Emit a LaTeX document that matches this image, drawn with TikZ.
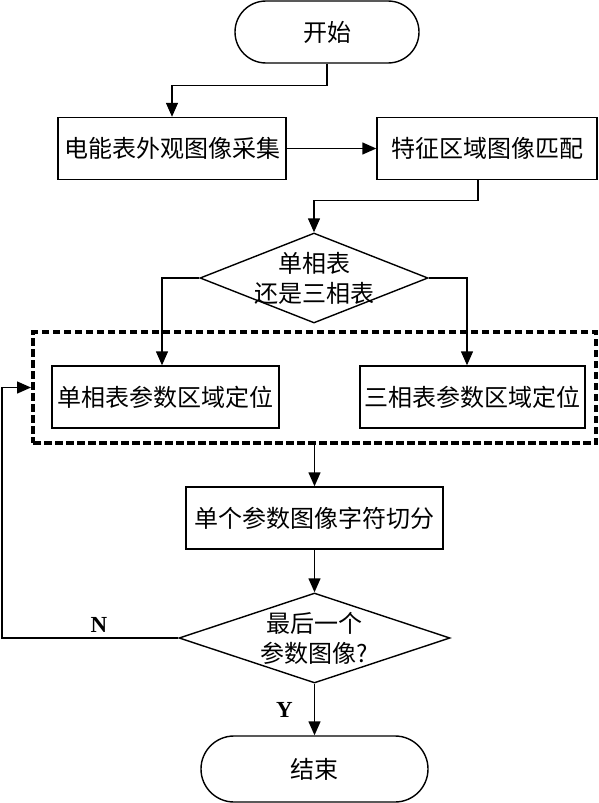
\documentclass[tikz,border=0pt]{standalone}
\usepackage{fontspec}
\setmainfont{Noto Sans CJK SC}
\newfontfamily\latinfont{Liberation Serif}
\usetikzlibrary{shapes.geometric,arrows.meta,positioning}

\begin{document}
\begin{tikzpicture}[x=1pt,y=-1pt,font=\fontsize{24}{30}\selectfont,
box/.style={rectangle,draw,line width=1.4pt,minimum height=62pt,inner sep=0pt},
term/.style={rectangle,draw,line width=1.4pt,rounded corners=31pt,inner sep=0pt},
dec/.style={diamond,draw,line width=1.4pt,align=center,inner xsep=0pt,inner ysep=-11pt},
grp/.style={rectangle,draw,line width=4pt,dash pattern=on 7.5pt off 3.5pt},
arr/.style={line width=1.4pt,-{Triangle[length=14pt,width=12pt]}},
yn/.style={inner sep=0pt,font=\latinfont\bfseries\fontsize{23}{26}\selectfont}]
\useasboundingbox (0,0) rectangle (598,803);

\node[term,minimum width=184pt,minimum height=62pt] (start) at (327,32) {开始};
\node[box,minimum width=228pt] (collect) at (172,148.5) {电能表外观图像采集};
\node[box,minimum width=220pt] (match) at (487,148.5) {特征区域图像匹配};
\node[dec,aspect=2.5,minimum width=228pt,minimum height=90pt] (kind) at (314,278) {单相表\\还是三相表};
\node[grp,minimum width=563pt,minimum height=111pt] (locate) at (314.5,387.5) {};
\node[box,minimum width=227pt] (single) at (165.5,397) {单相表参数区域定位};
\node[box,minimum width=225pt] (three) at (472.5,397) {三相表参数区域定位};
\node[box,minimum width=257pt] (split) at (314.5,518) {单个参数图像字符切分};
\node[dec,aspect=3,minimum width=271pt,minimum height=90pt] (last) at (314.5,638) {最后一个\\参数图像?};
\node[term,rounded corners=33pt,minimum width=227pt,minimum height=66pt] (stop) at (314.5,769) {结束};
\coordinate (back) at (2,638);

\draw[arr] (start.south) -- ++(0,22) -| (collect.north);
\draw[arr] (collect) -- (match);
\draw[arr] ([xshift=-9pt]match.south) -- ++(0,20) -| (kind.north);
\draw[arr] (kind.west) -| ([xshift=-3.5pt]single.north);
\draw[arr] (kind.east) -| ([xshift=-5.5pt]three.north);
\draw[arr] (locate.south) -- (split.north);
\draw[arr] (split.south) -- (last.north);
\draw[arr] (last.south) -- node[yn,left=21pt] {Y} (stop.north);
\draw[arr] (last.west) -- node[yn,above=5pt,pos=0.45] {N} (back) |- (locate.west);
\end{tikzpicture}
\end{document}
